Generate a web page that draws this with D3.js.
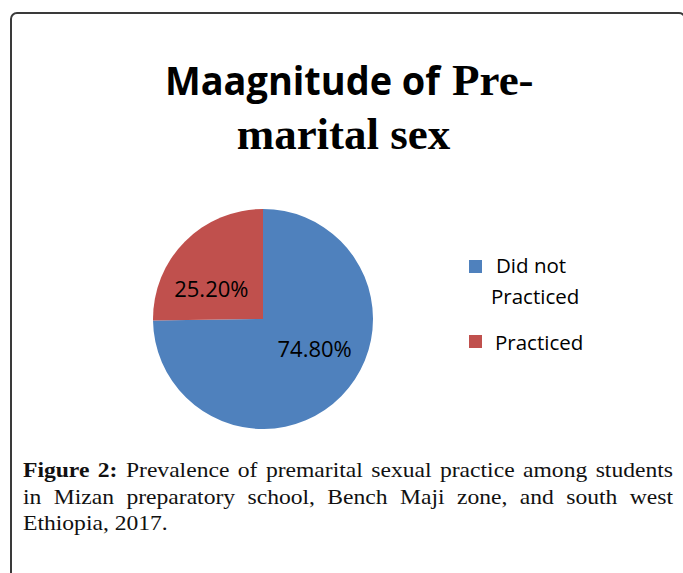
<!DOCTYPE html>
<html><head><meta charset="utf-8">
<script src="https://cdn.jsdelivr.net/npm/d3@7"></script>
<style>html,body{margin:0;padding:0;background:#fff;}</style>
</head><body>
<script>
// ---- data ----
const categories = ["Did not Practiced", "Practiced"];
const values = [74.8, 25.2];
const valueLabels = ["74.80%", "25.20%"];
const legendLines = [["Did not", "Practiced"], ["Practiced"]];
const titleLine1Sans = "Maagnitude of";
const titleLine1Serif = "Pre-";
const titleLine2 = "marital sex";
const captionLines = [
  ["Figure", "2:", "Prevalence", "of", "premarital", "sexual", "practice", "among", "students"],
  ["in", "Mizan", "preparatory", "school,", "Bench", "Maji", "zone,", "and", "south", "west"],
  ["Ethiopia,", "2017."]
];
const boldWords = 2; // first two words of caption bold

const W = 683, H = 573;
const svg = d3.select("body").append("svg").attr("width", W).attr("height", H);

// frame
svg.append("rect").attr("x", 11).attr("y", 13).attr("width", 674).attr("height", 620)
  .attr("rx", 6).attr("fill", "none").attr("stroke", "#3a3a3a").attr("stroke-width", 2);

// title
svg.append("text").attr("x", 165).attr("y", 95)
  .attr("font-family", "'Open Sans', sans-serif").attr("font-weight", 700).attr("font-size", 39)
  .attr("textLength", 275).attr("lengthAdjust", "spacingAndGlyphs")
  .text(titleLine1Sans);
svg.append("text").attr("x", 452).attr("y", 95)
  .attr("font-family", "'Liberation Serif', serif").attr("font-weight", 700).attr("font-size", 45)
  .text(titleLine1Serif);
svg.append("text").attr("x", 343.5).attr("y", 149).attr("text-anchor", "middle")
  .attr("font-family", "'Liberation Serif', serif").attr("font-weight", 700).attr("font-size", 45)
  .text(titleLine2);

// pie
const cx = 263, cy = 319, R = 110;
const color = d3.scaleOrdinal().domain(categories).range(["#4F81BD", "#C0504D"]);
const pie = d3.pie().sort(null).value(d => d.v);
const data = categories.map((c, i) => ({c, v: values[i], label: valueLabels[i]}));
const arcs = pie(data);
const arc = d3.arc().innerRadius(0).outerRadius(R);
const labelArc = d3.arc().innerRadius(R * 0.66).outerRadius(R * 0.66);
const g = svg.append("g").attr("transform", `translate(${cx},${cy})`);
g.selectAll("path").data(arcs).join("path")
  .attr("d", arc).attr("fill", d => color(d.data.c));
g.selectAll("text").data(arcs).join("text")
  .attr("x", d => labelArc.centroid(d)[0])
  .attr("y", d => labelArc.centroid(d)[1] * 0.58 + 8)
  .attr("text-anchor", "middle")
  .attr("font-family", "'Open Sans', sans-serif").attr("font-size", 22).attr("fill", "#000")
  .text(d => d.data.label);

// legend
const legendItems = [
  {c: categories[0], sq: 260, lines: [{x: 496, y: 273}, {x: 491, y: 304}]},
  {c: categories[1], sq: 335, lines: [{x: 495, y: 350}]}
];
legendItems.forEach((it, i) => {
  svg.append("rect").attr("x", 469).attr("y", it.sq).attr("width", 13).attr("height", 13)
    .attr("fill", color(it.c));
  legendLines[i].forEach((t, j) => {
    svg.append("text").attr("x", it.lines[j].x).attr("y", it.lines[j].y)
      .attr("font-family", "'Open Sans', sans-serif").attr("font-size", 20.5).attr("fill", "#000")
      .text(t);
  });
});

// caption (justified)
const sx = 1.18, capLeft = 23, capRight = 673, capFs = 20;
const capW = (capRight - capLeft) / sx;
const baselines = [477, 504, 530];
const cap = svg.append("g").attr("transform", `translate(${capLeft},0) scale(${sx},1)`);
captionLines.forEach((words, li) => {
  const nodes = words.map((w, k) => {
    const bold = (li === 0 && k < boldWords);
    return cap.append("text").attr("y", baselines[li])
      .attr("font-family", "'Liberation Serif', serif").attr("font-size", capFs)
      .attr("font-weight", bold ? 700 : 400).attr("fill", "#111").text(w);
  });
  const widths = nodes.map(n => n.node().getComputedTextLength());
  const total = d3.sum(widths);
  const gap = li < captionLines.length - 1 ? (capW - total) / (words.length - 1) : capFs * 0.25;
  let x = 0;
  nodes.forEach((n, k) => { n.attr("x", x); x += widths[k] + gap; });
});
</script>
</body></html>
